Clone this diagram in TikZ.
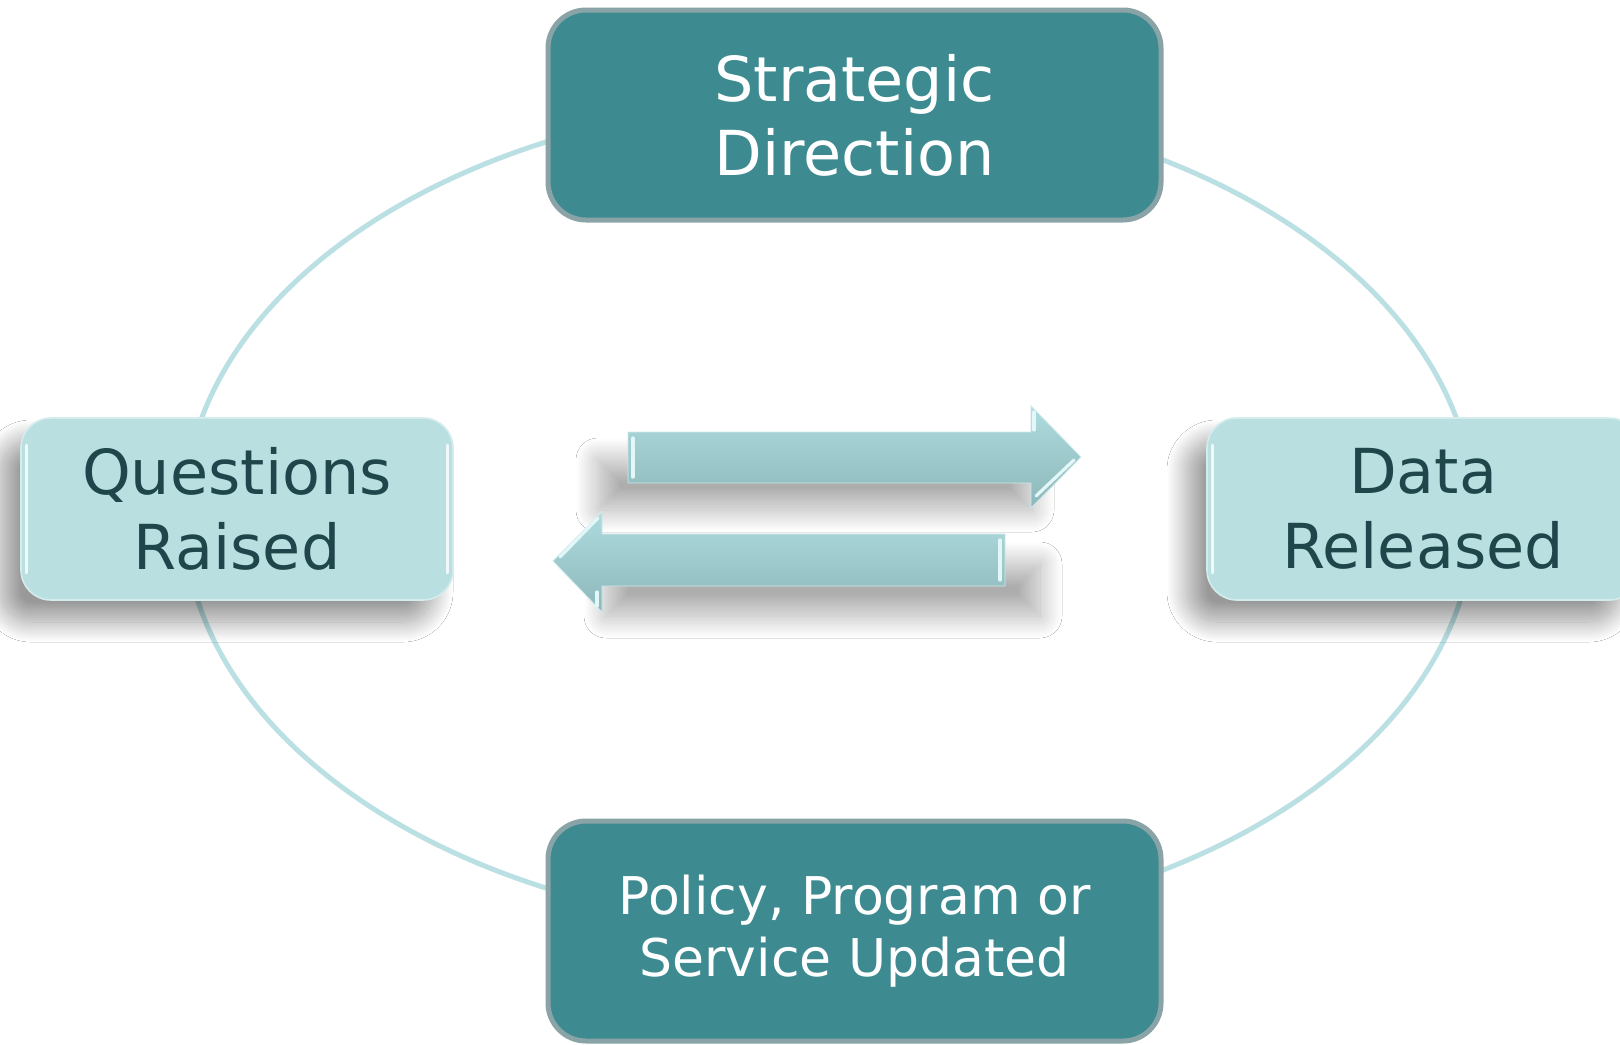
\documentclass[tikz,border=0pt]{standalone}
\usepackage{fontspec}
\setmainfont{DejaVu Sans}
\usetikzlibrary{shadows.blur}
\definecolor{darkbox}{HTML}{3D8B91}
\definecolor{darkedge}{HTML}{8AA3A6}
\definecolor{lightbox}{HTML}{B9DFE1}
\definecolor{lighttext}{HTML}{1F474B}
\definecolor{ringcol}{HTML}{BAE0E3}
\definecolor{arrowtop}{HTML}{AEDBDD}
\definecolor{arrowbot}{HTML}{8DB8BB}
\definecolor{shine}{HTML}{E4F7F8}
\tikzset{
  darkstep/.style={draw=darkedge, line width=2.5pt, fill=darkbox, rounded corners=19pt,
    minimum width=306.5pt, inner sep=0pt, align=center, text=white},
  lightstep/.style={draw=lightbox!60!white, line width=0.8pt, fill=lightbox, rounded corners=15pt,
    minimum width=216pt, minimum height=91pt, inner sep=0pt, align=center, text=lighttext,
    font=\fontsize{31pt}{37.5pt}\selectfont,
    blur shadow={shadow xshift=-10pt, shadow yshift=-11pt, shadow blur radius=10pt,
      shadow blur steps=30, shadow opacity=40}},
  ring/.style={draw=ringcol, line width=2.5pt},
  softshade/.style={blur shadow={shadow xshift=0pt, shadow yshift=0pt, shadow blur radius=11pt,
      shadow blur steps=30, shadow opacity=32}},
  flowarrow/.style={shading=axis, top color=arrowtop, bottom color=arrowbot, draw=arrowtop!60!white, line width=0.4pt},
  glint/.style={draw=shine, line width=1.6pt, line cap=round}
}
\begin{document}
\begin{tikzpicture}[x=0.5pt,y=-0.5pt]
\useasboundingbox (0,0) rectangle (1620,1044);
\fill[white] (0,0) rectangle (1620,1044);

% cycle ring
\draw[ring] (829,515) ellipse [x radius=645, y radius=415];

% soft shadows under the central arrows
\path[softshade] (598,460) rectangle (1032,510);
\path[softshade] (606,564) rectangle (1040,616);

% central arrows
\path[flowarrow] (628,432) -- (1031,432) -- (1031,406) -- (1081,457) -- (1031,508) -- (1031,483) -- (628,483) -- cycle;
\path[flowarrow] (1005,534) -- (602,534) -- (602,512) -- (553,561) -- (602,612) -- (602,586) -- (1005,586) -- cycle;
\draw[glint] (633,438) -- (633,477);
\draw[glint] (1034,412) -- (1034,430);
\draw[glint] (1036,496) -- (1074,460);
\draw[glint] (1000,540) -- (1000,580);
\draw[glint] (598,518) -- (560,557);
\draw[glint] (597,592) -- (597,606);

% steps
\node[darkstep, minimum height=105pt, font=\fontsize{31pt}{37pt}\selectfont] (strat) at (854.5,115) {Strategic\\Direction};
\node[darkstep, minimum height=110pt, font=\fontsize{26pt}{31pt}\selectfont] (policy) at (854.5,931) {Policy, Program or\\Service Updated};
\node[lightstep] (quest) at (237,509) {Questions\\Raised};
\node[lightstep] (data) at (1423,509) {Data\\Released};

% glossy edges of the light boxes
\draw[glint, draw=white, opacity=0.8] ([xshift=3pt,yshift=-14pt]quest.north west) -- ([xshift=3pt,yshift=14pt]quest.south west);
\draw[glint, draw=white, opacity=0.8] ([xshift=-3pt,yshift=-14pt]quest.north east) -- ([xshift=-3pt,yshift=14pt]quest.south east);
\draw[glint, draw=white, opacity=0.8] ([xshift=3pt,yshift=-14pt]data.north west) -- ([xshift=3pt,yshift=14pt]data.south west);
\end{tikzpicture}
\end{document}
